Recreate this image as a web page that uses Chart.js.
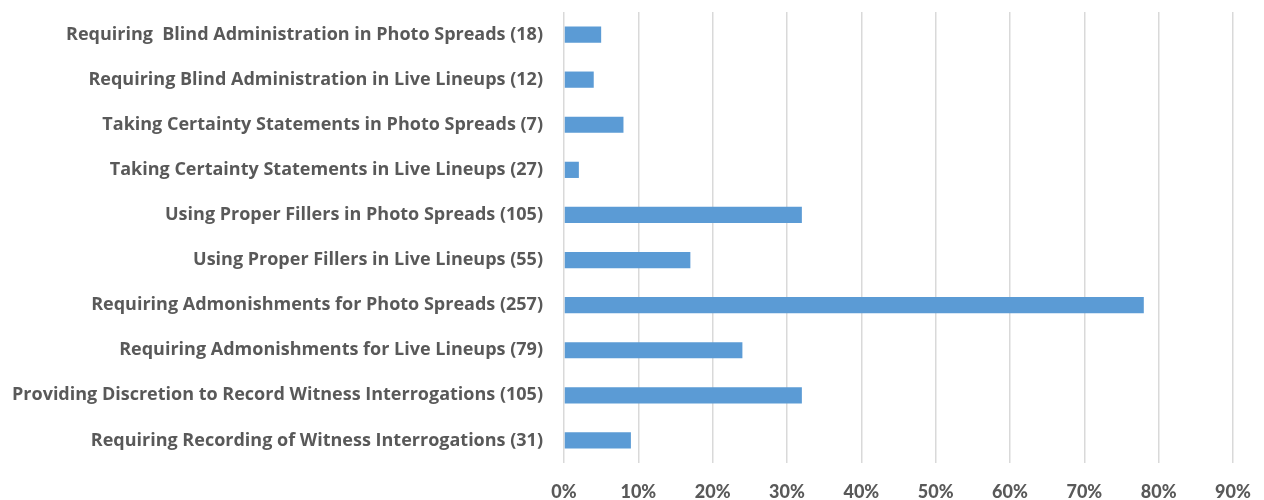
<!DOCTYPE html>
<html>
<head>
<meta charset="utf-8">
<script src="https://cdn.jsdelivr.net/npm/chart.js@4"></script>
<style>
  html, body { margin: 0; padding: 0; background: #fff; }
  #wrap { width: 1264px; height: 500px; }
</style>
</head>
<body>
<div id="wrap"><canvas id="reformChart"></canvas></div>
<script>
const categories = [
    'Requiring  Blind Administration in Photo Spreads (18)',
    'Requiring Blind Administration in Live Lineups (12)',
    'Taking Certainty Statements in Photo Spreads (7)',
    'Taking Certainty Statements in Live Lineups (27)',
    'Using Proper Fillers in Photo Spreads (105)',
    'Using Proper Fillers in Live Lineups (55)',
    'Requiring Admonishments for Photo Spreads (257)',
    'Requiring Admonishments for Live Lineups (79)',
    'Providing Discretion to Record Witness Interrogations (105)',
    'Requiring Recording of Witness Interrogations (31)'
];
const shares = [0.05, 0.04, 0.08, 0.02, 0.32, 0.17, 0.78, 0.24, 0.32, 0.09];
const tickMax = 0.9;

const ctx = document.getElementById('reformChart').getContext('2d');
const reformChart = new Chart(ctx, {
    type: 'bar',
    data: {
        labels: categories,
        datasets: [{
            data: shares,
            backgroundColor: '#5b9bd5',
            borderWidth: 0,
            categoryPercentage: 1,
            barPercentage: 0.36
        }]
    },
    options: {
        indexAxis: 'y',
        responsive: true,
        maintainAspectRatio: false,
        animation: false,
        layout: { padding: { top: 12, right: 31, bottom: 0, left: 0 } },
        plugins: { legend: { display: false }, tooltip: { enabled: false } },
        scales: {
            x: {
                min: 0,
                max: tickMax,
                afterFit: axis => {
                    axis.height = 37;
                    axis.paddingLeft = 0;
                    axis.paddingRight = 0;
                },
                ticks: {
                    stepSize: 0.1,
                    color: '#595959',
                    font: { family: 'Lato', size: 18, weight: '900' },
                    padding: 18,
                    callback: v => Math.round(v * 100) + '%'
                },
                grid: { color: '#d9d9d9', lineWidth: 1.5, drawTicks: false },
                border: { display: false }
            },
            y: {
                afterFit: axis => {
                    axis.width = 564;
                    axis.paddingTop = 0;
                    axis.paddingBottom = 0;
                },
                ticks: {
                    color: '#595959',
                    font: { family: 'Open Sans', size: 18, weight: 'bold' },
                    padding: 13
                },
                grid: { display: false },
                border: { display: false }
            }
        }
    }
});
</script>
</body>
</html>
